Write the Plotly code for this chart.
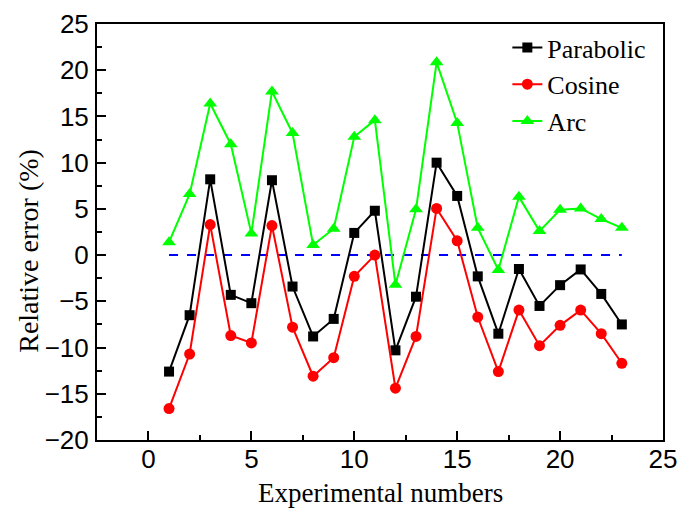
import plotly.graph_objects as go

experiments = list(range(1, 24))
parabolic = [-12.6, -6.5, 8.2, -4.3, -5.2, 8.1, -3.4, -8.8, -6.9, 2.4, 4.8, -10.3,
             -4.5, 10.0, 6.4, -2.3, -8.5, -1.5, -5.5, -3.25, -1.55, -4.2, -7.5]
cosine = [-16.6, -10.7, 3.3, -8.7, -9.5, 3.2, -7.8, -13.1, -11.1, -2.3, 0.0, -14.4,
          -8.8, 5.05, 1.55, -6.7, -12.6, -5.95, -9.8, -7.6, -5.95, -8.5, -11.7]
arc = [1.4, 6.6, 16.4, 12.0, 2.35, 17.7, 13.2, 1.1, 2.85, 12.8, 14.6, -3.2,
       4.95, 20.85, 14.3, 2.95, -1.6, 6.3, 2.6, 4.9, 5.05, 3.9, 2.95]
zero_x = [1, 23]
zero_y = [0, 0]

fig = go.Figure()
fig.add_trace(go.Scatter(x=zero_x, y=zero_y, mode="lines", showlegend=False,
                         line=dict(color="#0000FF", width=2, dash="dash")))
fig.add_trace(go.Scatter(x=experiments, y=parabolic, mode="lines+markers", name="Parabolic",
                         line=dict(color="black", width=2),
                         marker=dict(symbol="square", size=10, color="black")))
fig.add_trace(go.Scatter(x=experiments, y=cosine, mode="lines+markers", name="Cosine",
                         line=dict(color="#FF0000", width=2),
                         marker=dict(symbol="circle", size=11, color="#FF0000")))
fig.add_trace(go.Scatter(x=experiments, y=arc, mode="lines+markers", name="Arc",
                         line=dict(color="#00FF00", width=2),
                         marker=dict(symbol="triangle-up", size=12, color="#00FF00")))

axis_common = dict(showline=True, linecolor="black", linewidth=2, mirror=True,
                   ticks="inside", ticklen=9, tickwidth=2, tickcolor="black",
                   showgrid=False, zeroline=False, automargin=False,
                   tickfont=dict(family="Liberation Sans, Arial", size=26, color="black"),
                   minor=dict(ticks="inside", ticklen=5, tickwidth=2, tickcolor="black", dtick=2.5))

fig.update_layout(
    width=692, height=513,
    margin=dict(l=97, r=29, t=24, b=73, autoexpand=False),
    plot_bgcolor="white", paper_bgcolor="white",
    xaxis=dict(range=[-2.5, 25], dtick=5, tick0=0, ticklabelstandoff=-5, **axis_common),
    yaxis=dict(range=[-20, 25], dtick=5, tick0=0, ticklabelstandoff=1, **axis_common),
    legend=dict(x=0.725, y=1.0, xanchor="left", yanchor="top", bgcolor="rgba(0,0,0,0)",
                tracegroupgap=0,
                font=dict(family="Liberation Serif, Times New Roman", size=26, color="black")),
    annotations=[
        dict(text="Experimental numbers", xref="paper", yref="paper", x=0.5, y=-0.128,
             xanchor="center", yanchor="middle", showarrow=False,
             font=dict(family="Liberation Serif, Times New Roman", size=27, color="black")),
        dict(text="Relative error (%)", xref="paper", yref="paper", x=-0.12, y=0.455,
             xanchor="center", yanchor="middle", showarrow=False, textangle=-90,
             font=dict(family="Liberation Serif, Times New Roman", size=28, color="black")),
    ],
)

fig.write_html("out.html", config={"displayModeBar": False})
with open("out.html", "r", encoding="utf-8") as f:
    html = f.read()
html = html.replace("<head>", "<head><style>html,body{margin:0;padding:0;overflow:hidden;}</style>", 1)
with open("out.html", "w", encoding="utf-8") as f:
    f.write(html)
